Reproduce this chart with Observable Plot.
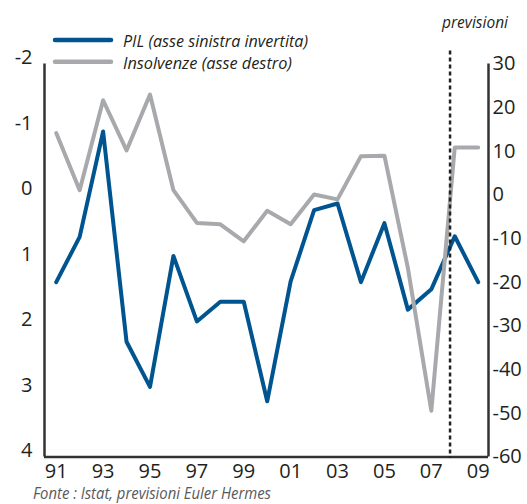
<!DOCTYPE html>
<html>
<head>
<meta charset="utf-8">
<script src="https://cdn.jsdelivr.net/npm/d3@7"></script>
<script src="https://cdn.jsdelivr.net/npm/@observablehq/plot@0.6"></script>
<style>
  html, body { margin: 0; padding: 0; background: #fff; }
  #wrap { position: relative; width: 527px; height: 504px; overflow: hidden; }
  #overlay { position: absolute; left: 0; top: 0; pointer-events: none; }
</style>
</head>
<body>
<div id="wrap"></div>
<script>
// ---- data ----
const years = [1991, 1992, 1993, 1994, 1995, 1996, 1997, 1998, 1999, 2000,
               2001, 2002, 2003, 2004, 2005, 2006, 2007, 2008, 2009];
// PIL growth (left axis, inverted)
const pil = [1.33, 0.64, -0.97, 2.24, 2.93, 0.93, 1.93, 1.63, 1.63, 3.15,
             1.32, 0.23, 0.13, 1.33, 0.43, 1.75, 1.44, 0.63, 1.33];
// Insolvenze (right axis)
const insolvenze = [14.2, 1.1, 21.7, 10.2, 23.0, 1.1, -6.4, -6.7, -10.6, -3.6,
                    -6.7, 0.1, -1.0, 8.9, 9.0, -16.7, -49.4, 10.9, 10.9];
const xTicks = [1991, 1993, 1995, 1997, 1999, 2001, 2003, 2005, 2007, 2009];
const xTickLabels = ["91", "93", "95", "97", "99", "01", "03", "05", "07", "09"];
const leftTicks = [-2, -1, 0, 1, 2, 3, 4];
const rightTicks = [30, 20, 10, 0, -10, -20, -30, -40, -50, -60];
const forecastStart = 2007.8;
const seriesNames = ["PIL (asse sinistra invertita)", "Insolvenze (asse destro)"];
const sourceText = "Fonte : Istat, previsioni Euler Hermes";
const forecastText = "previsioni";

// right axis value r corresponds to left value -r/15
const ratio = -15;
const data = years.map((y, i) => ({year: y, pil: pil[i], ins: insolvenze[i]}));

const BLUE = "#00548F", GRAY = "#A7A9AC", AXIS = "#333333", TEXT = "#231F20";
const xDom = [1990.5, 2009.44];

const chart = Plot.plot({
  width: 527,
  height: 504,
  marginLeft: 44,
  marginRight: 39,
  marginTop: 63.5,
  marginBottom: 47.5,
  style: {fontFamily: "'Open Sans', sans-serif", fontSize: "20px", color: TEXT, background: "white", overflow: "visible"},
  x: {domain: xDom, label: null},
  y: {domain: [-2, 4], reverse: true, label: null},
  marks: [
    Plot.axisX({ticks: xTicks, tickFormat: d => xTickLabels[xTicks.indexOf(d)], tickSize: 0, tickPadding: 7, fontSize: 20, label: null}),
    Plot.axisY({anchor: "left", ticks: leftTicks, tickFormat: d => String(d), tickSize: 0, tickPadding: 12, dy: -6, fontSize: 20, label: null}),
    Plot.axisY({anchor: "right", ticks: rightTicks.map(r => r / ratio), tickFormat: d => String(Math.round(d * ratio)), tickSize: 0, tickPadding: 4, fontSize: 20, label: null}),
    Plot.ruleX([xDom[0], xDom[1]], {y1: -2, y2: 4, stroke: AXIS, strokeWidth: 2.5}),
    Plot.ruleY([4], {x1: xDom[0], x2: xDom[1], stroke: AXIS, strokeWidth: 2.5}),
    Plot.line(data, {x: "year", y: "pil", stroke: BLUE, strokeWidth: 4}),
    Plot.line(data, {x: "year", y: d => d.ins / ratio, stroke: GRAY, strokeWidth: 4}),
    Plot.ruleX([forecastStart], {y1: -2.2, y2: 4.02, stroke: "#222", strokeWidth: 2.5, strokeDasharray: "4,3", clip: false})
  ]
});
document.getElementById("wrap").appendChild(chart);

// overlay: legend, forecast label, source
const ns = "http://www.w3.org/2000/svg";
const ov = document.createElementNS(ns, "svg");
ov.setAttribute("id", "overlay");
ov.setAttribute("width", 527);
ov.setAttribute("height", 504);
function addLine(x1, x2, y, color) {
  const l = document.createElementNS(ns, "line");
  l.setAttribute("x1", x1); l.setAttribute("x2", x2);
  l.setAttribute("y1", y); l.setAttribute("y2", y);
  l.setAttribute("stroke", color); l.setAttribute("stroke-width", 4.5);
  l.setAttribute("stroke-linecap", "round");
  ov.appendChild(l);
}
function addText(str, x, y, size, len, color) {
  const t = document.createElementNS(ns, "text");
  t.textContent = str;
  t.setAttribute("x", x); t.setAttribute("y", y);
  t.setAttribute("font-family", "'Open Sans', sans-serif");
  t.setAttribute("font-style", "italic");
  t.setAttribute("font-size", size);
  t.setAttribute("fill", color);
  t.setAttribute("textLength", len);
  t.setAttribute("lengthAdjust", "spacingAndGlyphs");
  ov.appendChild(t);
}
addLine(55, 111, 40, BLUE);
addLine(55, 111, 61.7, GRAY);
addText(seriesNames[0], 123, 46.5, 16, 185, TEXT);
addText(seriesNames[1], 123, 69, 16, 169, TEXT);
addText(forecastText, 442, 28, 17, 66, TEXT);
addText(sourceText, 33, 499, 16, 238, "#58595B");
document.getElementById("wrap").appendChild(ov);
</script>
</body>
</html>
